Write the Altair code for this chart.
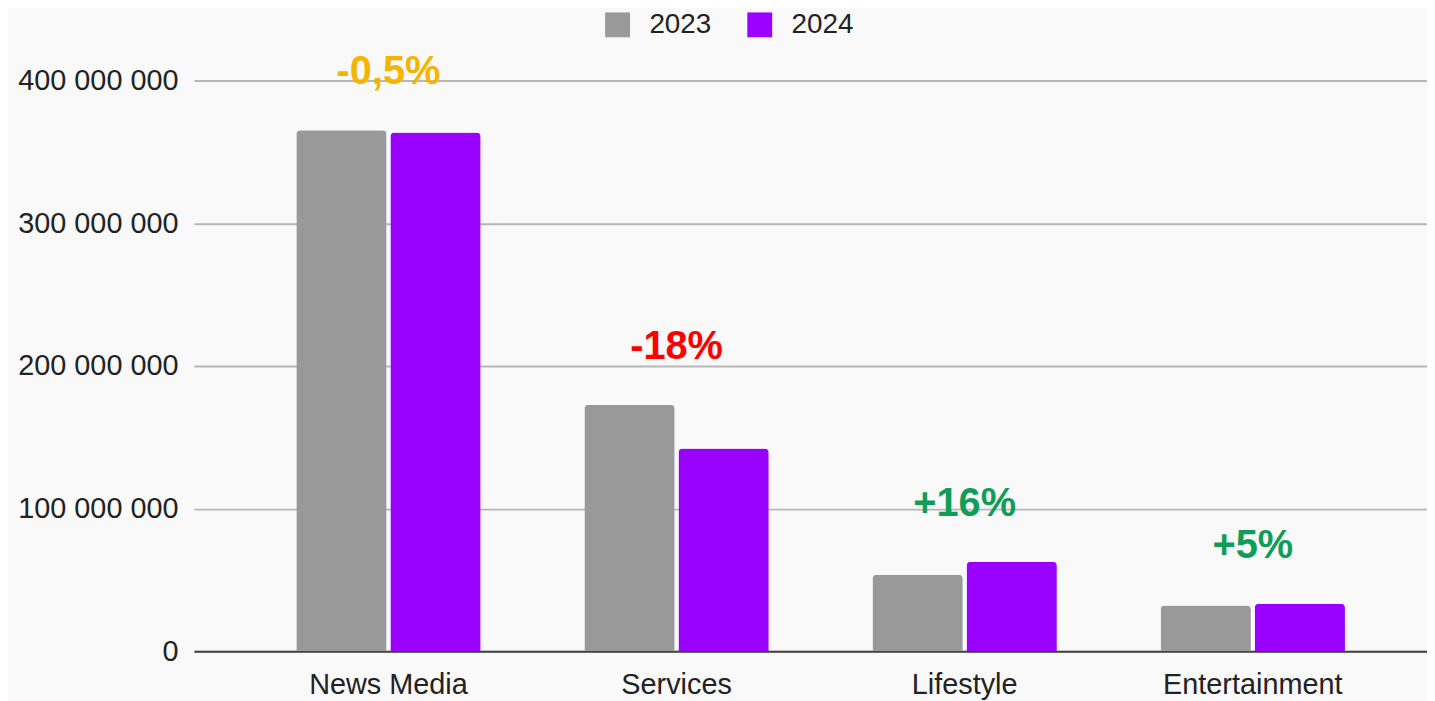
import altair as alt
import pandas as pd

categories = ["News Media", "Services", "Lifestyle", "Entertainment"]
years = ["2023", "2024"]
values_2023 = [365_200_000, 172_800_000, 53_700_000, 32_100_000]
values_2024 = [363_600_000, 142_200_000, 62_700_000, 33_400_000]
change_labels = ["-0,5%", "-18%", "+16%", "+5%"]
change_colors = ["#f4b400", "#ff0000", "#0f9d58", "#0f9d58"]
year_colors = ["#999999", "#9900ff"]
y_ticks = [0, 100_000_000, 200_000_000, 300_000_000, 400_000_000]

rows = []
for c, a, b in zip(categories, values_2023, values_2024):
    rows.append({"category": c, "year": "2023", "value": a})
    rows.append({"category": c, "year": "2024", "value": b})
df = pd.DataFrame(rows)

ann = pd.DataFrame({
    "category": categories,
    "label": change_labels,
    "top": [max(a, b) for a, b in zip(values_2023, values_2024)],
})

FONT = "Liberation Sans"

x_enc = alt.X(
    "category:N",
    sort=categories,
    title=None,
    scale=alt.Scale(paddingInner=0.36, paddingOuter=0.32, align=0.555),
    axis=alt.Axis(
        labelAngle=0, labelFontSize=29, labelFont=FONT, labelColor="#222222",
        ticks=False, domainColor="#444444", domainWidth=2, labelPadding=19,
        grid=False, labelLimit=0,
    ),
)

bars = alt.Chart(df).mark_bar(cornerRadiusTopLeft=4, cornerRadiusTopRight=4).encode(
    x=x_enc,
    xOffset=alt.XOffset("year:N", sort=years, scale=alt.Scale(paddingInner=0.04)),
    y=alt.Y(
        "value:Q",
        title=None,
        scale=alt.Scale(domain=[0, 400_000_000], nice=False),
        axis=alt.Axis(
            values=y_ticks,
            labelExpr="replace(replace(format(datum.value, ','), ',', ' '), ',', ' ')",
            labelFontSize=29, labelFont=FONT, labelColor="#222222",
            ticks=False, domain=False, labelPadding=16,
            gridColor="#b7b7b7", gridWidth=2,
        ),
    ),
    color=alt.Color(
        "year:N",
        sort=years,
        scale=alt.Scale(domain=years, range=year_colors),
        legend=alt.Legend(
            title=None, orient="none", direction="horizontal",
            legendX=412, legendY=-70,
            labelFontSize=28, labelFont=FONT, labelColor="#222222",
            symbolType="square", symbolSize=625, symbolStrokeWidth=0,
            labelOffset=18, columnPadding=34,
        ),
    ),
)

texts = alt.Chart(ann).mark_text(
    fontSize=40, fontWeight="bold", font=FONT, dy=-58, baseline="middle"
).encode(
    x=alt.X("category:N", sort=categories),
    y=alt.Y("top:Q"),
    text="label:N",
    color=alt.Color("label:N", scale=alt.Scale(domain=change_labels, range=change_colors), legend=None),
)

chart = alt.layer(bars, texts).resolve_scale(color="independent").properties(
    width=1240,
    height=574,
    background="#f9f9f9",
    padding={"left": 187, "top": 71, "right": 0, "bottom": 48},
    autosize=alt.AutoSizeParams(type="none"),
).configure_view(stroke=None)

chart.save("out.html", embed_options={"renderer": "svg", "actions": False})
